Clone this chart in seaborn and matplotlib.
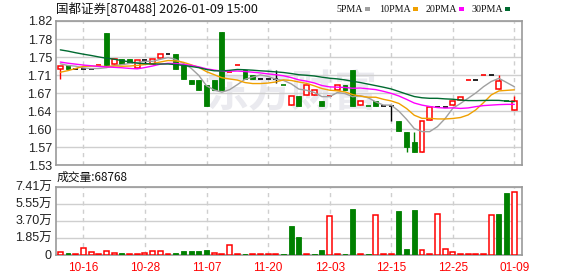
import numpy as np
import pandas as pd
import matplotlib
matplotlib.use("Agg")
import matplotlib.pyplot as plt
from matplotlib.patches import Rectangle
import seaborn as sns

# ---------------- data ----------------
title = "国都证券[870488] 2026-01-09 15:00"
tick_labels = ["10-16", "10-28", "11-07", "11-20", "12-03", "12-15", "12-25", "01-09"]
tick_index = [3, 11, 19, 27, 35, 43, 51, 59]
price_tick_labels = ["1.53", "1.57", "1.60", "1.64", "1.67", "1.71", "1.75", "1.78", "1.82"]
vol_tick_labels = ["0", "1.85万", "3.70万", "5.55万", "7.41万"]
last_volume_label = "成交量:68768"

# closes of the 29 sessions before the window (needed for the moving averages)
prior_close = [1.80, 1.82, 1.81, 1.80, 1.82, 1.81, 1.80, 1.82, 1.81, 1.82,
               1.77, 1.76, 1.76, 1.75, 1.76, 1.75, 1.76, 1.75, 1.76, 1.76,
               1.69, 1.68, 1.68, 1.72, 1.73, 1.74, 1.73, 1.74, 1.73]

open_ = [1.723, 1.731, 1.723, 1.723, 1.723, 1.731, 1.795, 1.733, 1.744, 1.744,
         1.726, 1.742, 1.733, 1.745, 1.753, 1.753, 1.732, 1.701, 1.701, 1.691,
         1.701, 1.797, 1.718, 1.731, 1.721, 1.711, 1.703, 1.703, 1.703, 1.691,
         1.651, 1.670, 1.671, 1.671, 1.659, 1.669, 1.681, 1.691, 1.721, 1.651,
         1.649, 1.659, 1.649, 1.649, 1.619, 1.596, 1.576, 1.556, 1.621, 1.648,
         1.648, 1.651, 1.661, 1.701, 1.701, 1.711, 1.711, 1.683, 1.659, 1.641]
close = [1.730, 1.723, 1.723, 1.723, 1.723, 1.731, 1.731, 1.743, 1.733, 1.735,
         1.742, 1.742, 1.743, 1.753, 1.753, 1.723, 1.703, 1.693, 1.681, 1.649,
         1.681, 1.681, 1.718, 1.731, 1.703, 1.703, 1.703, 1.703, 1.703, 1.691,
         1.669, 1.650, 1.691, 1.681, 1.649, 1.669, 1.691, 1.681, 1.649, 1.659,
         1.649, 1.649, 1.649, 1.649, 1.598, 1.567, 1.556, 1.619, 1.648, 1.648,
         1.648, 1.659, 1.668, 1.701, 1.701, 1.711, 1.711, 1.700, 1.659, 1.659]
high = [1.730, 1.731, 1.723, 1.723, 1.723, 1.731, 1.795, 1.743, 1.744, 1.744,
        1.742, 1.742, 1.743, 1.753, 1.753, 1.753, 1.732, 1.701, 1.701, 1.691,
        1.701, 1.797, 1.718, 1.731, 1.721, 1.711, 1.703, 1.703, 1.721, 1.691,
        1.669, 1.670, 1.691, 1.681, 1.659, 1.669, 1.691, 1.691, 1.721, 1.659,
        1.649, 1.659, 1.649, 1.649, 1.619, 1.596, 1.596, 1.619, 1.648, 1.648,
        1.648, 1.659, 1.668, 1.701, 1.701, 1.711, 1.711, 1.711, 1.659, 1.669]
low = [1.703, 1.723, 1.723, 1.723, 1.723, 1.731, 1.731, 1.733, 1.733, 1.735,
       1.726, 1.735, 1.733, 1.745, 1.753, 1.723, 1.703, 1.693, 1.681, 1.649,
       1.681, 1.681, 1.718, 1.731, 1.703, 1.703, 1.703, 1.703, 1.695, 1.691,
       1.651, 1.650, 1.671, 1.671, 1.649, 1.669, 1.681, 1.681, 1.649, 1.651,
       1.649, 1.649, 1.649, 1.620, 1.598, 1.556, 1.556, 1.556, 1.621, 1.648,
       1.648, 1.651, 1.661, 1.701, 1.701, 1.711, 1.711, 1.683, 1.659, 1.641]
volume = [2900, 1500, 1000, 7300, 2900, 1000, 4000, 2200, 2200, 1000,
          1000, 2200, 4000, 4000, 1000, 2200, 4400, 4400, 3600, 5400,
          2200, 1000, 10700, 1000, 1000, 1000, 1000, 1000, 1000, 1000,
          31200, 19300, 1000, 1000, 5400, 42600, 1000, 1000, 49400, 1000,
          1000, 43700, 1000, 1000, 47300, 6500, 48300, 4700, 1000, 44800,
          6200, 2900, 1000, 1000, 1000, 1000, 43700, 44000, 67700, 68768]

ma_windows = [5, 10, 20, 30]
ma_names = ["5PMA", "10PMA", "20PMA", "30PMA"]

# ---------------- style ----------------
RED = "#ff0000"
GREEN = "#008000"
MA_COLORS = ["#a0a0a0", "#f0a000", "#ff00ff", "#006a30"]
GRID = "#cfcfcf"
SPINE = "#999999"

sns.set_style("white")
plt.rcParams["font.family"] = ["Liberation Sans", "Noto Sans CJK SC", "DejaVu Sans"]

W, H = 578, 276
fig = plt.figure(figsize=(W / 100, H / 100), dpi=100)


def rect(x0, y0, x1, y1):
    return [x0 / W, 1 - y1 / H, (x1 - x0) / W, (y1 - y0) / H]


ax = fig.add_axes(rect(56, 21, 522, 165.3))
axv = fig.add_axes(rect(56, 186.7, 522, 254.7))

n = len(close)
x = np.arange(n)
o = np.array(open_)
c = np.array(close)
hi = np.array(high)
lo = np.array(low)
v = np.array(volume)
prev = np.r_[prior_close[-1], c[:-1]]

up = c > o + 1e-9
down = c < o - 1e-9
flat = ~(up | down)
doji_col = np.where(c > prev + 1e-9, RED, np.where(c < prev - 1e-9, GREEN, "#000000"))
cand_col = np.where(up, RED, np.where(down, GREEN, doji_col))

BW = 0.64
for a in (ax, axv):
    a.set_xlim(-0.56, 60.0)

# watermark
ax.text(0.505, 0.5, "东方财富", transform=ax.transAxes, fontsize=31, fontweight="bold",
        color="#eaeaef", ha="center", va="center", zorder=0,
        family=["Noto Sans CJK SC"])

# wicks
ax.vlines(x, lo, hi, colors=cand_col, linewidth=1, zorder=2)
# bodies
ax.bar(x[up], (c - o)[up], bottom=o[up], width=BW, facecolor="white",
       edgecolor=RED, linewidth=1.1, zorder=3)
ax.bar(x[down], (o - c)[down], bottom=c[down], width=BW, facecolor=GREEN,
       edgecolor=GREEN, linewidth=0.6, zorder=3)
ax.hlines(c[flat], x[flat] - BW / 2, x[flat] + BW / 2, colors=cand_col[flat],
          linewidth=1.2, zorder=3)

# moving averages
all_close = pd.Series(prior_close + close)
ma_df = pd.DataFrame({"idx": x})
for w, name in zip(ma_windows, ma_names):
    ma_df[name] = all_close.rolling(w).mean().to_numpy()[-n:]
for name, col in zip(ma_names, MA_COLORS):
    sns.lineplot(data=ma_df, x="idx", y=name, color=col, linewidth=1, ax=ax, zorder=4)

ax.set_ylim(1.53, 1.82)
ax.set_yticks(np.linspace(1.53, 1.82, 9))
ax.set_yticklabels(price_tick_labels)
ax.set_xticks(tick_index)
ax.set_xticklabels([])
ax.set_xlabel("")
ax.set_ylabel("")

# volume
vol_up = c >= prev - 1e-9
axv.bar(x[vol_up], v[vol_up], width=BW, facecolor="white", edgecolor=RED,
        linewidth=1.1, zorder=3)
axv.bar(x[~vol_up], v[~vol_up], width=BW, facecolor=GREEN, edgecolor=GREEN,
        linewidth=0.6, zorder=3)
axv.set_ylim(0, 74100)
axv.set_yticks(np.linspace(0, 74100, 5))
axv.set_yticklabels(vol_tick_labels)
axv.set_xticks(tick_index)
axv.set_xticklabels(tick_labels)

for a in (ax, axv):
    a.grid(False)
    for yv in a.get_yticks():
        a.axhline(yv, color=GRID, linewidth=1, zorder=1)
    for xv in tick_index:
        a.axvline(xv, color=GRID, linewidth=1, linestyle=(0, (3, 3)), zorder=1)
    for s in a.spines.values():
        s.set_color(SPINE)
        s.set_linewidth(1.2)
        s.set_visible(True)
    a.tick_params(axis="both", length=0, pad=3, labelsize=9, colors="#222222")
axv.tick_params(axis="x", colors=RED, pad=5, labelsize=8.5)

# texts
fig.text(56 / W, 1 - 8.5 / H, title, ha="left", va="center", fontsize=9,
         color="#111111", family=["Noto Sans CJK SC", "DejaVu Sans"])
fig.text(57 / W, 1 - 177 / H, last_volume_label, ha="left", va="center",
         fontsize=8.5, color="#111111", family=["Noto Sans CJK SC", "DejaVu Sans"])

sq_x = [365, 413, 459, 505]
for name, col, sx in zip(ma_names, MA_COLORS, sq_x):
    fig.text((sx - 2) / W, 1 - 9 / H, name, ha="right", va="center", fontsize=7.2,
             color="#111111", family=["Liberation Serif"])
    fig.patches.append(Rectangle((sx / W, 1 - 10.5 / H), 5 / W, 3 / H,
                                 transform=fig.transFigure, facecolor=col,
                                 edgecolor="none"))

fig.savefig("out.png", dpi=100)
